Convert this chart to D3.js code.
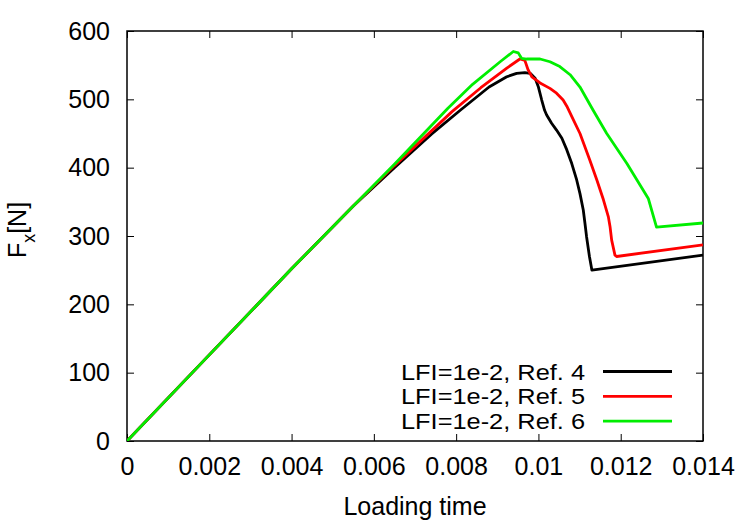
<!DOCTYPE html>
<html>
<head>
<meta charset="utf-8">
<script src="https://cdn.jsdelivr.net/npm/d3@7"></script>
<style>
  body { margin: 0; background: #fff; }
  svg { display: block; font-family: "Liberation Sans", Arial, sans-serif; }
</style>
</head>
<body>
<div id="chart"></div>
<script>
// Ref. 4 (black)
const ref4Time = [0, 0.002, 0.004, 0.0055, 0.0065, 0.0074, 0.0081, 0.0088, 0.00923, 0.00947, 0.00967, 0.0098, 0.00992, 0.01, 0.01008, 0.01015, 0.0102, 0.01032, 0.01044, 0.01057, 0.01069, 0.01081, 0.01093, 0.01101, 0.01109, 0.01113, 0.01117, 0.01124, 0.0113, 0.014];
const ref4Force = [0, 126, 252, 344, 400, 449, 484, 518, 533, 538, 539, 538, 531, 518, 499, 484, 477, 465, 455, 443, 426, 406, 382, 362, 338, 319, 299, 270, 250, 272];

// Ref. 5 (red)
const ref5Time = [0, 0.002, 0.004, 0.0055, 0.0065, 0.0079, 0.0086, 0.00924, 0.00955, 0.00967, 0.00975, 0.00984, 0.01004, 0.01028, 0.01044, 0.0106, 0.01069, 0.01085, 0.01101, 0.01125, 0.01142, 0.01158, 0.0117, 0.01174, 0.01178, 0.01186, 0.0119, 0.014];
const ref5Force = [0, 126, 252, 344, 403, 482, 517, 546, 559, 557, 543, 533, 524, 516, 509, 499, 490, 470, 450, 411, 382, 353, 328, 314, 294, 272, 270, 287];

// Ref. 6 (green)
const ref6Time = [0, 0.002, 0.004, 0.0055, 0.0065, 0.0078, 0.0084, 0.00907, 0.00939, 0.00951, 0.00959, 0.00971, 0.00988, 0.01004, 0.01028, 0.01052, 0.01077, 0.01101, 0.01133, 0.01166, 0.01215, 0.01267, 0.01287, 0.014];
const ref6Force = [0, 126, 252, 344, 405, 487, 522, 555, 570, 568, 560, 559, 559, 559, 555, 548, 536, 518, 484, 450, 406, 355, 313, 319];

const seriesNames = ["LFI=1e-2, Ref. 4", "LFI=1e-2, Ref. 5", "LFI=1e-2, Ref. 6"];
const seriesColors = ["#000000", "#ff0000", "#00ee00"];

const xTicks = [0, 0.002, 0.004, 0.006, 0.008, 0.01, 0.012, 0.014];
const yTicks = [0, 100, 200, 300, 400, 500, 600];

function main() {
  let width = 750, height = 525;
  let margin = {top: 31, right: 47, bottom: 84, left: 127};
  let fontSize = 25;

  let x = d3.scaleLinear()
    .domain([0, 0.014])
    .range([margin.left, width - margin.right]);
  let y = d3.scaleLinear()
    .domain([0, 600])
    .range([height - margin.bottom, margin.top]);

  const svg = d3.select("#chart").append("svg")
    .attr("width", width)
    .attr("height", height);

  svg.append("defs").append("clipPath")
    .attr("id", "plot-clip")
    .append("rect")
    .attr("x", margin.left)
    .attr("y", margin.top)
    .attr("width", x.range()[1] - margin.left)
    .attr("height", y.range()[0] - margin.top);

  let fmt = d => d === 0 ? "0" : String(+d.toFixed(3));
  let tickLen = 7;

  // bottom axis + mirrored top ticks
  svg.append("g")
    .attr("transform", `translate(0,${y(0)})`)
    .call(d3.axisBottom(x).tickValues(xTicks).tickFormat(fmt).tickSizeInner(-tickLen).tickSizeOuter(0).tickPadding(16))
    .call(g => g.select(".domain").remove())
    .call(g => g.selectAll("text").attr("font-size", fontSize).attr("fill", "#000"))
    .call(g => g.selectAll("line").attr("stroke", "#000"));

  svg.append("g")
    .attr("transform", `translate(0,${y(600)})`)
    .call(d3.axisTop(x).tickValues(xTicks).tickFormat("").tickSizeInner(-tickLen).tickSizeOuter(0))
    .call(g => g.select(".domain").remove())
    .call(g => g.selectAll("line").attr("stroke", "#000"));

  svg.append("g")
    .attr("transform", `translate(${x(0)},0)`)
    .call(d3.axisLeft(y).tickValues(yTicks).tickSizeInner(-tickLen).tickSizeOuter(0).tickPadding(17))
    .call(g => g.select(".domain").remove())
    .call(g => g.selectAll("text").attr("font-size", fontSize).attr("fill", "#000"))
    .call(g => g.selectAll("line").attr("stroke", "#000"));

  svg.append("g")
    .attr("transform", `translate(${x(0.014)},0)`)
    .call(d3.axisRight(y).tickValues(yTicks).tickFormat("").tickSizeInner(-tickLen).tickSizeOuter(0))
    .call(g => g.select(".domain").remove())
    .call(g => g.selectAll("line").attr("stroke", "#000"));

  // frame
  svg.append("rect")
    .attr("x", x(0))
    .attr("y", y(600))
    .attr("width", x(0.014) - x(0))
    .attr("height", y(0) - y(600))
    .attr("fill", "none")
    .attr("stroke", "#000")
    .attr("stroke-width", 1.5);

  let allSeries = [
    ref4Time.map((t, i) => [t, ref4Force[i]]),
    ref5Time.map((t, i) => [t, ref5Force[i]]),
    ref6Time.map((t, i) => [t, ref6Force[i]])
  ];

  let line = d3.line()
    .x(d => x(d[0]))
    .y(d => y(d[1]));

  svg.append("g")
    .attr("clip-path", "url(#plot-clip)")
    .selectAll("path")
    .data(allSeries)
    .join("path")
    .attr("d", line)
    .attr("fill", "none")
    .attr("stroke", (d, i) => seriesColors[i])
    .attr("stroke-width", 2.8)
    .attr("stroke-linejoin", "round");

  // legend (slightly smaller font so the tight rows don't collide)
  let legend = svg.append("g");
  seriesNames.forEach((name, i) => {
    let ly = 371.5 + i * 24.8;
    legend.append("text")
      .attr("x", 585)
      .attr("y", ly + 8)
      .attr("text-anchor", "end")
      .attr("font-size", 21.3)
      .attr("textLength", 184)
      .attr("lengthAdjust", "spacingAndGlyphs")
      .text(name);
    legend.append("line")
      .attr("x1", 603)
      .attr("x2", 672)
      .attr("y1", ly)
      .attr("y2", ly)
      .attr("stroke", seriesColors[i])
      .attr("stroke-width", 2.8);
  });

  // axis titles
  svg.append("text")
    .attr("x", (x(0) + x(0.014)) / 2)
    .attr("y", 515)
    .attr("text-anchor", "middle")
    .attr("font-size", fontSize)
    .text("Loading time");

  let yt = svg.append("text")
    .attr("transform", "translate(26,230) rotate(-90)")
    .attr("text-anchor", "middle")
    .attr("font-size", fontSize);
  yt.append("tspan").text("F");
  yt.append("tspan").attr("dy", 9).attr("font-size", 18).text("x");
  yt.append("tspan").attr("dy", -9).text("[N]");
}

main();
</script>
</body>
</html>
